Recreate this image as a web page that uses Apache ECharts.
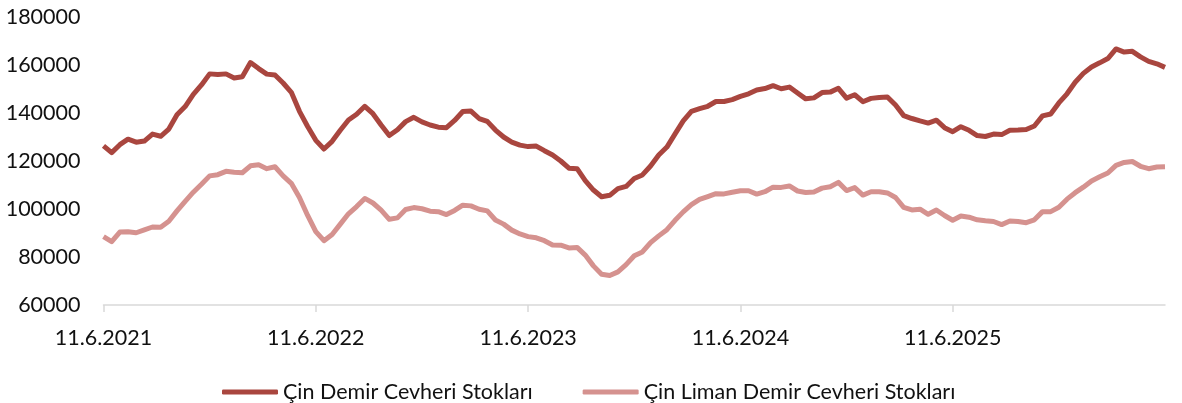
<!DOCTYPE html>
<html>
<head>
<meta charset="utf-8">
<title>Çin Demir Cevheri Stokları</title>
<script src="https://cdn.jsdelivr.net/npm/echarts@6.0.0/dist/echarts.min.js"></script>
<style>
  html, body { margin: 0; padding: 0; background: #fff; }
  #chart { width: 1182px; height: 403px; }
</style>
</head>
<body>
<div id="chart"></div>
<script>
// iki haftalik veri, 11.6.2021'den baslar
var tickLabels = ['11.6.2021', '11.6.2022', '11.6.2023', '11.6.2024', '11.6.2025'];
var tickStep = 26;

var demirStok = [
  126300, 123500, 126800, 129100, 127850, 128300, 131200, 130300, 133300, 139300,
  142700, 147800, 151700, 156300, 156000, 156300, 154600, 155100, 161000, 158500,
  156200, 155800, 152500, 148600, 140700, 134400, 128600, 125000, 128200, 132800,
  137100, 139500, 142800, 139700, 135000, 130600, 133000, 136400, 138200, 136300,
  135000, 134100, 133900, 136900, 140600, 140800, 137700, 136500, 132900, 130000,
  127900, 126600, 126000, 126200, 124300, 122500, 120000, 117000, 116800, 111800,
  107900, 105100, 105700, 108500, 109400, 112700, 114200, 117900, 122500, 125800,
  131300, 136700, 140700, 141800, 142800, 144800, 144800, 145600, 146900, 148000,
  149600, 150200, 151400, 150100, 150800, 148300, 145900, 146300, 148500, 148700,
  150300, 146200, 147600, 144700, 146100, 146500, 146700, 143300, 138900, 137700,
  136700, 135800, 137000, 133900, 132200, 134300, 132800, 130600, 130200, 131200,
  131000, 132800, 132900, 133100, 134600, 138800, 139600, 144200, 148000, 152800,
  156500, 159200, 160900, 162700, 166700, 165400, 165700, 163400, 161500, 160500,
  159000
];

var limanStok = [
  88500, 86400, 90400, 90500, 90100, 91300, 92500, 92400, 94900, 99200,
  103200, 107000, 110300, 113800, 114300, 115700, 115300, 115100, 118000, 118400,
  116800, 117600, 113800, 110700, 104800, 97300, 90600, 86800, 89400, 93700,
  98000, 101000, 104400, 102500, 99500, 95700, 96300, 99800, 100600, 100100,
  99100, 98900, 97700, 99400, 101600, 101300, 99900, 99200, 95400, 93700,
  91200, 89600, 88500, 88000, 86800, 85000, 84900, 83800, 84000, 80800,
  76300, 72800, 72300, 73800, 76800, 80500, 82100, 86000, 88800, 91400,
  95300, 98800, 101800, 104000, 105200, 106400, 106300, 107000, 107600, 107600,
  106200, 107200, 109100, 109000, 109600, 107500, 106900, 107100, 108700, 109300,
  111100, 107700, 108900, 105800, 107200, 107200, 106700, 104800, 100700, 99600,
  99900, 97800, 99600, 97300, 95300, 97100, 96600, 95500, 95100, 94800,
  93500, 95000, 94800, 94300, 95500, 98900, 98900, 100700, 104100, 106800,
  109100, 111700, 113400, 115000, 118200, 119400, 119800, 117800, 116800, 117500,
  117600
];

// kategori: iki haftalik tarihler
var categories = [];
var d0 = new Date(2021, 5, 11);
for (var i = 0; i < demirStok.length; i++) {
  var d = new Date(d0.getTime() + i * 14 * 86400000);
  categories.push(d.getDate() + '.' + (d.getMonth() + 1) + '.' + d.getFullYear());
}

function showTick(index) {
  return index % tickStep === 0 && index / tickStep < tickLabels.length;
}

var chart = echarts.init(document.getElementById('chart'), null, { renderer: 'canvas' });

chart.setOption({
  animation: false,
  textStyle: { fontFamily: 'Lato' },
  grid: { left: 103.5, right: 17, top: 17, bottom: 98, containLabel: false },
  legend: {
    left: 217,
    top: 376,
    itemGap: 50,
    itemWidth: 56,
    itemHeight: 5,
    icon: 'roundRect',
    textStyle: { fontFamily: 'Lato', fontSize: 21.5, color: '#111' },
    data: ['Çin Demir Cevheri Stokları', 'Çin Liman Demir Cevheri Stokları']
  },
  xAxis: {
    type: 'category',
    boundaryGap: false,
    data: categories,
    axisLine: { lineStyle: { color: '#d9d9d9', width: 1.5 } },
    axisTick: { show: true, interval: showTick, length: 7, lineStyle: { color: '#d9d9d9', width: 1.5 } },
    axisLabel: {
      interval: showTick,
      margin: 22,
      fontSize: 21.5,
      color: '#111',
      formatter: function (value, index) {
        return tickLabels[index / tickStep];
      }
    },
    splitLine: { show: false }
  },
  yAxis: {
    type: 'value',
    min: 60000,
    max: 180000,
    interval: 20000,
    axisLine: { show: false },
    axisTick: { show: false },
    splitLine: { show: false },
    axisLabel: {
      fontSize: 21.5,
      color: '#111',
      margin: 23,
      formatter: function (v) { return String(v); }
    }
  },
  series: [
    {
      name: 'Çin Demir Cevheri Stokları',
      type: 'line',
      data: demirStok,
      symbol: 'none',
      itemStyle: { color: '#a9463f' },
      lineStyle: { color: '#a9463f', width: 5, join: 'round' }
    },
    {
      name: 'Çin Liman Demir Cevheri Stokları',
      type: 'line',
      data: limanStok,
      symbol: 'none',
      itemStyle: { color: '#d5928f' },
      lineStyle: { color: '#d5928f', width: 5, join: 'round' }
    }
  ]
});
</script>
</body>
</html>
